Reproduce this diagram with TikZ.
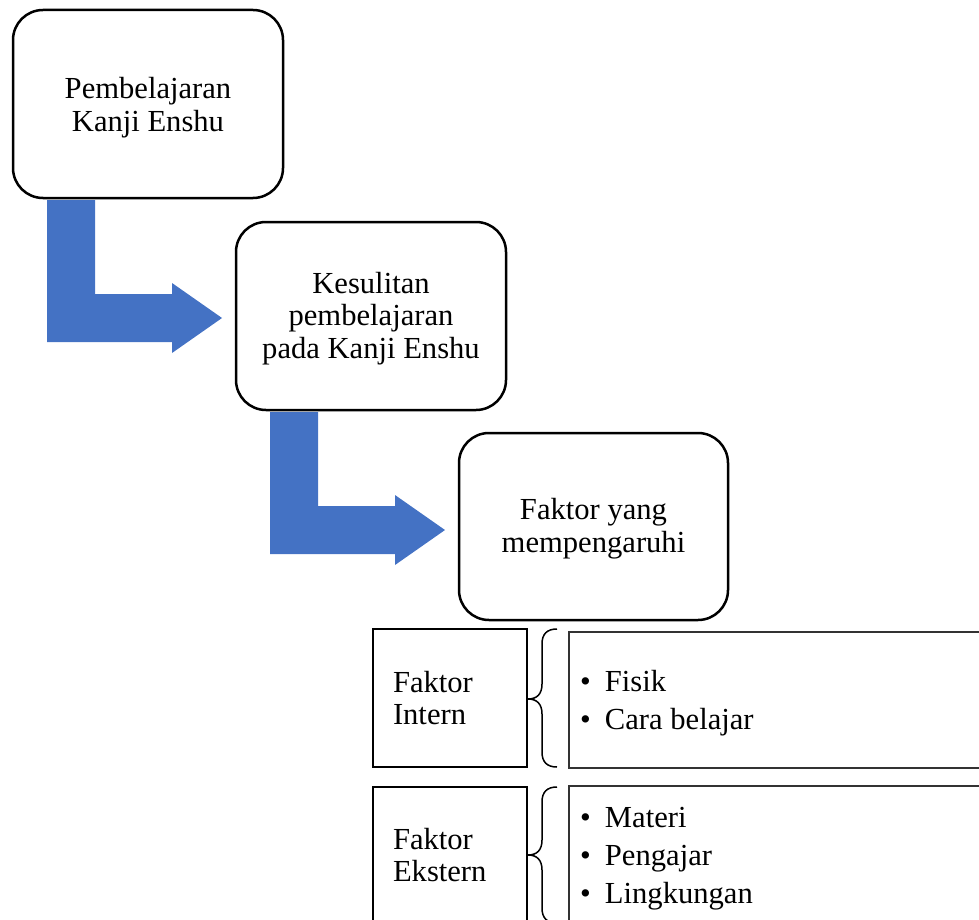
\documentclass[tikz,border=0pt]{standalone}
\usepackage{fontspec}
\setmainfont{Liberation Serif}
\definecolor{arrowblue}{HTML}{4472C4}
\newcommand\mybul{\makebox[25pt][l]{\textbullet}}
\begin{document}
\begin{tikzpicture}[x=1pt,y=-1pt,
  rbox/.style={draw=black, line width=2.5pt, rounded corners=30pt, outer sep=0pt,
    minimum width=270pt, minimum height=188pt, anchor=north west,
    inner sep=0pt, font=\fontsize{30.6}{32.8}\selectfont},
  fbox/.style={draw=black, line width=2pt, outer sep=0pt, anchor=north west,
    minimum width=154pt, text width=114pt, inner xsep=20pt, inner ysep=0pt,
    align=left, font=\fontsize{30.6}{32.5}\selectfont},
  lbox/.style={draw=black!80, line width=1.8pt, outer sep=0pt, anchor=north west,
    minimum width=421pt, inner xsep=11pt, inner ysep=0pt,
    font=\fontsize{30.6}{38}\selectfont},
  blockarrow/.style={fill=arrowblue, draw=none},
  bracepath/.style={draw=black, line width=1.5pt}]
\useasboundingbox (0,0) rectangle (979,920);
\clip (0,0) rectangle (979,920);

% rounded boxes
\node[rbox, minimum width=270pt, minimum height=188pt] (b1) at (13,10) {\parbox{260pt}{\vspace*{7pt}\centering Pembelajaran\\Kanji Enshu}};
\node[rbox, minimum width=270pt, minimum height=188pt] (b2) at (236,222) {\parbox{260pt}{\vspace*{5pt}\centering Kesulitan\\pembelajaran\\pada Kanji Enshu}};
\node[rbox, minimum width=269pt, minimum height=187pt] (b3) at (459,433) {\parbox{260pt}{\vspace*{5pt}\centering Faktor yang\\mempengaruhi}};

% block arrows
\begin{scope}[shift={(b1.south west)}]
  \fill[blockarrow] (34,2) -- (82,2) -- (82,96) -- (159,96) -- (159,85) -- (209,120)
    -- (159,155) -- (159,144) -- (34,144) -- cycle;
\end{scope}
\begin{scope}[shift={(b2.south west)}]
  \fill[blockarrow] (34,2) -- (82,2) -- (82,96) -- (159,96) -- (159,85) -- (209,120)
    -- (159,155) -- (159,144) -- (34,144) -- cycle;
\end{scope}

% factor boxes
\node[fbox, minimum height=138pt] (fi) at (373,629) {Faktor\\Intern};
\node[fbox, minimum height=136pt] (fe) at (373,787) {Faktor\\Ekstern};

% list boxes
\node[lbox, minimum height=136pt] (li) at (569,632) {\parbox{399pt}{\vspace*{6pt}\raggedright\mybul Fisik\\\mybul Cara belajar}};
\node[lbox, minimum height=138pt] (le) at (569,786) {\parbox{399pt}{\vspace*{7pt}\raggedright\mybul Materi\\\mybul Pengajar\\\mybul Lingkungan}};

% braces
\draw[bracepath] (557,629) .. controls (547,629) and (542,634) .. (542,644) -- (542,684)
  .. controls (542,694) and (537,699) .. (528,699)
  .. controls (537,699) and (542,704) .. (542,714) -- (542,752)
  .. controls (542,762) and (547,767) .. (557,767);
\draw[bracepath] (557,787) .. controls (547,787) and (542,792) .. (542,802) -- (542,840)
  .. controls (542,850) and (537,855) .. (528,855)
  .. controls (537,855) and (542,860) .. (542,870) -- (542,908)
  .. controls (542,918) and (547,923) .. (557,923);
\end{tikzpicture}
\end{document}
